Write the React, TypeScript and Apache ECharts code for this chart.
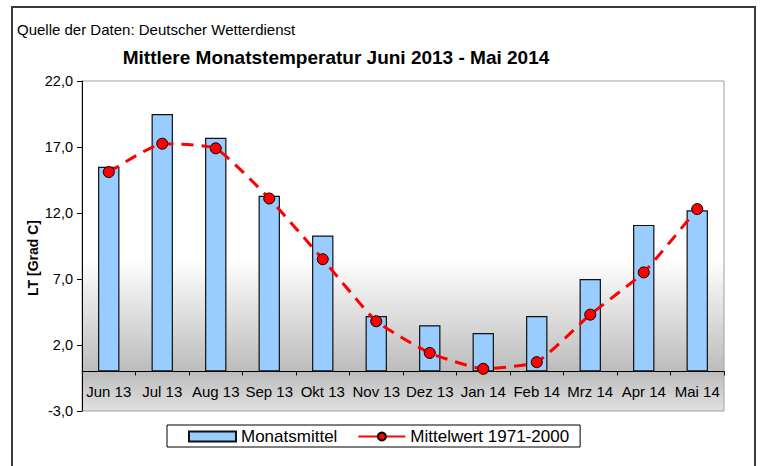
import React, { useEffect, useRef } from "react";
import * as echarts from "echarts";

const categories = ["Jun 13", "Jul 13", "Aug 13", "Sep 13", "Okt 13", "Nov 13", "Dez 13", "Jan 14", "Feb 14", "Mrz 14", "Apr 14", "Mai 14"];
const monatsmittel = [15.5, 19.5, 17.7, 13.3, 10.3, 4.2, 3.5, 2.9, 4.2, 7.0, 11.1, 12.2];
const mittelwert = [15.1, 17.25, 16.9, 13.1, 8.5, 3.8, 1.4, 0.2, 0.7, 4.3, 7.5, 12.3];
const yTicks = [-3, 2, 7, 12, 17, 22];

export default function App() {
  const ref = useRef<HTMLDivElement>(null);
  useEffect(() => {
    document.body.style.margin = "0";
    const chart = echarts.init(ref.current!, null, { renderer: "svg" });
    const font = "Liberation Sans, Arial, sans-serif";
    chart.setOption({
      animation: false,
      backgroundColor: "#ffffff",
      textStyle: { fontFamily: font },
      title: {
        text: "Mittlere Monatstemperatur Juni 2013 - Mai 2014",
        left: 331,
        textAlign: "center",
        top: 43,
        textStyle: { fontSize: 19, fontWeight: "bold", color: "#000", fontFamily: font },
      },
      graphic: [
        {
          type: "rect",
          shape: { x: 12, y: 7, width: 743, height: 475 },
          style: { fill: "none", stroke: "#3a3a3a", lineWidth: 2 },
          silent: true,
        },
        {
          type: "text",
          x: 17,
          y: 22,
          style: { text: "Quelle der Daten: Deutscher Wetterdienst", fontSize: 15, fill: "#000", fontFamily: font },
        },
        {
          type: "text",
          x: 33,
          y: 258,
          rotation: Math.PI / 2,
          style: { text: "LT [Grad C]", fontSize: 14, fontWeight: "bold", fill: "#000", fontFamily: font, align: "center", verticalAlign: "middle" },
        },
      ],
      legend: {
        left: 167,
        top: 425,
        padding: [3, 11, 2, 21],
        itemGap: 20,
        borderColor: "#000",
        borderWidth: 1,
        itemWidth: 47,
        itemHeight: 10,
        textStyle: { fontSize: 17, color: "#000", fontFamily: font },
        data: [
          { name: "Monatsmittel", icon: "rect" },
          { name: "Mittelwert 1971-2000", lineStyle: { type: "solid" } },
        ],
      },
      grid: {
        left: 82,
        right: 36,
        top: 81,
        bottom: 55,
        show: true,
        borderColor: "#a0a0a0",
        borderWidth: 1,
        backgroundColor: new echarts.graphic.LinearGradient(0, 0, 0, 1, [
          { offset: 0, color: "#ffffff" },
          { offset: 0.54, color: "#ffffff" },
          { offset: 0.88, color: "#bcbcbc" },
          { offset: 1, color: "#e0e0e0" },
        ]),
      },
      xAxis: {
        type: "category",
        data: categories,
        axisLine: { onZero: true, lineStyle: { color: "#000", width: 1 } },
        axisTick: { show: true, length: 4, lineStyle: { color: "#000" } },
        axisLabel: { fontSize: 15, color: "#000", margin: -27, fontFamily: font, interval: 0 },
      },
      yAxis: {
        type: "value",
        min: -3,
        max: 22,
        axisLine: { show: true, lineStyle: { color: "#000" } },
        axisTick: { show: true, length: 5, customValues: yTicks, lineStyle: { color: "#000" } },
        axisLabel: {
          fontSize: 14.5,
          color: "#000",
          margin: 9,
          fontFamily: font,
          customValues: yTicks,
          formatter: (v: number) => v.toFixed(1).replace(".", ","),
        },
        splitLine: { show: false },
      },
      series: [
        {
          name: "Monatsmittel",
          type: "bar",
          data: monatsmittel,
          barWidth: "40%",
          itemStyle: { color: "#99ccff", borderColor: "#111", borderWidth: 1.2 },
        },
        {
          name: "Mittelwert 1971-2000",
          type: "line",
          data: mittelwert,
          smooth: 0.15,
          symbol: "circle",
          symbolSize: 11,
          lineStyle: { color: "#ff0000", width: 3, type: [12, 8] },
          itemStyle: { color: "#ff0000", borderColor: "#000", borderWidth: 1 },
        },
      ],
    });
    return () => chart.dispose();
  }, []);
  return <div ref={ref} style={{ width: 760, height: 466 }} />;
}
